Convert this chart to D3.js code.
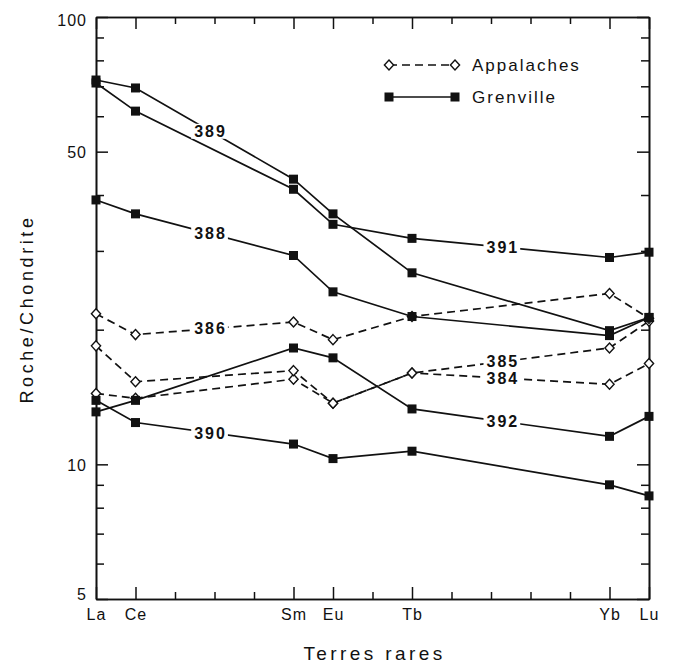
<!DOCTYPE html>
<meta charset="utf-8">
<script src="https://d3js.org/d3.v7.min.js"></script>
<body style="margin:0;background:#fff">
    <div id="chart"></div>
</body>
<script>
    // rare earth elements on x, placed by atomic number
    const elements = ["La", "Ce", "Sm", "Eu", "Tb", "Yb", "Lu"];
    const atomicNumbers = [57, 58, 62, 63, 65, 70, 71];

    // Grenville samples (solid line, filled squares) - rock / chondrite
    const grenville388 = [39.0, 36.3, 29.3, 24.3, 21.4, 19.4, 21.3];
    const grenville389 = [72.3, 69.4, 43.4, 36.3, 26.8, 19.9, 21.3];
    const grenville390 = [13.9, 12.4, 11.1, 10.3, 10.7, 9.0, 8.5];
    const grenville391 = [71.2, 61.6, 41.2, 34.4, 32.0, 29.0, 29.8];
    const grenville392 = [13.1, 13.9, 18.2, 17.3, 13.3, 11.55, 12.8];

    // Appalaches samples (dashed line, open diamonds)
    const appalaches384 = [14.4, 14.05, 15.5, 13.7, 16.0, 15.1, 16.8];
    const appalaches385 = [18.4, 15.3, 16.2, 13.7, 16.0, 18.2, 20.9];
    const appalaches386 = [21.7, 19.5, 20.8, 19.0, 21.4, 24.1, 21.2];

    // where the sample number sits along each curve (atomic number)
    const sampleNames = ["384", "385", "386", "388", "389", "390", "391", "392"];
    const sampleLabelAt = [67.3, 67.3, 59.9, 59.9, 59.9, 59.9, 67.3, 67.3];

    const yMajorTicks = [100, 50, 10, 5];
    const yMinorTicks = [90, 80, 70, 60, 40, 30, 20, 9, 8, 7, 6];
    const xMinorTicks = [59, 60, 61, 64, 66, 67, 68, 69];

    const series = [
        { name: "384", group: "Appalaches", values: appalaches384 },
        { name: "385", group: "Appalaches", values: appalaches385 },
        { name: "386", group: "Appalaches", values: appalaches386 },
        { name: "388", group: "Grenville", values: grenville388 },
        { name: "389", group: "Grenville", values: grenville389 },
        { name: "390", group: "Grenville", values: grenville390 },
        { name: "391", group: "Grenville", values: grenville391 },
        { name: "392", group: "Grenville", values: grenville392 }
    ];
    series.forEach(s => {
        s.labelAt = sampleLabelAt[sampleNames.indexOf(s.name)];
        s.points = s.values.map((v, i) => ({ z: atomicNumbers[i], v: v }));
    });

    const W = 673, H = 665;
    const margin = { top: 17, right: 24, bottom: 66, left: 96 };
    const FONT = "'Liberation Sans', Arial, Helvetica, sans-serif";

    const svg = d3.select("#chart")
        .append("svg")
        .attr("width", W)
        .attr("height", H)
        .style("font-family", FONT);

    const x = d3.scaleLinear()
        .domain([57, 71])
        .range([margin.left, W - margin.right]);
    const y = d3.scaleLog()
        .domain([5, 100])
        .range([H - margin.bottom, margin.top]);

    const x0 = x.range()[0], x1 = x.range()[1];
    const y0 = y.range()[0], y1 = y.range()[1];

    // --- axes / frame with inward ticks
    function styleAxis(g) {
        g.selectAll("path.domain").attr("stroke", "#111").attr("stroke-width", 1.6);
        g.selectAll(".tick line").attr("stroke", "#111").attr("stroke-width", 1.5);
        g.selectAll("text").attr("fill", "#111").attr("font-family", FONT);
    }

    // bottom, labelled elements
    svg.append("g")
        .attr("transform", `translate(0,${y0})`)
        .call(d3.axisBottom(x).tickValues(atomicNumbers).tickSize(-12).tickSizeOuter(0).tickPadding(10)
            .tickFormat(z => elements[atomicNumbers.indexOf(z)]))
        .call(styleAxis)
        .call(g => g.selectAll("text").attr("font-size", 16).attr("letter-spacing", 1));
    svg.append("g")
        .attr("transform", `translate(0,${y0})`)
        .call(d3.axisBottom(x).tickValues(xMinorTicks).tickSize(-7).tickSizeOuter(0).tickFormat(""))
        .call(styleAxis);

    // top
    svg.append("g")
        .attr("transform", `translate(0,${y1})`)
        .call(d3.axisTop(x).tickValues(atomicNumbers).tickSize(-12).tickSizeOuter(0).tickFormat(""))
        .call(styleAxis);
    svg.append("g")
        .attr("transform", `translate(0,${y1})`)
        .call(d3.axisTop(x).tickValues(xMinorTicks).tickSize(-7).tickSizeOuter(0).tickFormat(""))
        .call(styleAxis);

    // left
    svg.append("g")
        .attr("transform", `translate(${x0},0)`)
        .call(d3.axisLeft(y).tickValues(yMajorTicks).tickSize(-12).tickSizeOuter(0).tickPadding(9)
            .tickFormat(d3.format("d")))
        .call(styleAxis)
        .call(g => g.selectAll("text").attr("font-size", 16).attr("letter-spacing", 1)
            .attr("dy", d => d === 100 ? "0.5em" : d === 5 ? "0.05em" : "0.36em"));
    svg.append("g")
        .attr("transform", `translate(${x0},0)`)
        .call(d3.axisLeft(y).tickValues(yMinorTicks).tickSize(-8).tickSizeOuter(0).tickFormat(""))
        .call(styleAxis);

    // right
    svg.append("g")
        .attr("transform", `translate(${x1},0)`)
        .call(d3.axisRight(y).tickValues(yMajorTicks).tickSize(-12).tickSizeOuter(0).tickFormat(""))
        .call(styleAxis);
    svg.append("g")
        .attr("transform", `translate(${x1},0)`)
        .call(d3.axisRight(y).tickValues(yMinorTicks).tickSize(-8).tickSizeOuter(0).tickFormat(""))
        .call(styleAxis);

    // axis titles
    svg.append("text")
        .attr("x", (x0 + x1) / 2 + 2)
        .attr("y", 660)
        .attr("text-anchor", "middle")
        .attr("font-size", 19)
        .attr("letter-spacing", 3.4)
        .attr("fill", "#111")
        .text("Terres rares");

    svg.append("text")
        .attr("transform", `translate(33,${(y0 + y1) / 2 + 1}) rotate(-90)`)
        .attr("text-anchor", "middle")
        .attr("font-size", 18)
        .attr("letter-spacing", 3.6)
        .attr("fill", "#111")
        .text("Roche/Chondrite");

    // --- curves
    const line = d3.line()
        .x(d => x(d.z))
        .y(d => y(d.v));

    svg.append("g")
        .selectAll("path")
        .data(series)
        .join("path")
        .attr("d", d => line(d.points))
        .attr("fill", "none")
        .attr("stroke", "#111")
        .attr("stroke-width", 1.7)
        .attr("stroke-dasharray", d => d.group === "Appalaches" ? "8,5" : null);

    // sample numbers sitting on the curves (y interpolated along the line)
    function labelY(s) {
        const z = s.labelAt;
        let i = d3.bisectRight(atomicNumbers, z) - 1;
        i = Math.max(0, Math.min(i, atomicNumbers.length - 2));
        const t = (z - atomicNumbers[i]) / (atomicNumbers[i + 1] - atomicNumbers[i]);
        return y(s.values[i]) + t * (y(s.values[i + 1]) - y(s.values[i]));
    }

    const labels = svg.append("g")
        .selectAll("g")
        .data(series)
        .join("g")
        .attr("transform", d => `translate(${x(d.labelAt)},${labelY(d)})`);

    labels.append("text")
        .attr("text-anchor", "middle")
        .attr("dy", "0.36em")
        .attr("font-size", 16)
        .attr("font-weight", "bold")
        .attr("letter-spacing", 2)
        .attr("fill", "#111")
        .text(d => d.name);

    labels.each(function() {
        const g = d3.select(this);
        const b = g.select("text").node().getBBox();
        g.insert("rect", "text")
            .attr("x", b.x - 3)
            .attr("y", -7.5)
            .attr("width", b.width + 4)
            .attr("height", 15)
            .attr("fill", "#fff");
    });

    // --- markers
    const diamond = "M0,-5L4.6,0L0,5L-4.6,0Z";
    const pts = series.flatMap(s => s.points.map(p => ({ ...p, group: s.group })));

    svg.append("g")
        .selectAll("path")
        .data(pts.filter(p => p.group === "Appalaches"))
        .join("path")
        .attr("d", diamond)
        .attr("transform", d => `translate(${x(d.z)},${y(d.v)})`)
        .attr("fill", "#fff")
        .attr("stroke", "#111")
        .attr("stroke-width", 1.4);

    svg.append("g")
        .selectAll("rect")
        .data(pts.filter(p => p.group === "Grenville"))
        .join("rect")
        .attr("x", d => x(d.z) - 4.5)
        .attr("y", d => y(d.v) - 4.5)
        .attr("width", 9)
        .attr("height", 9)
        .attr("fill", "#111");

    // --- legend
    const legendGroups = ["Appalaches", "Grenville"];
    const legend = svg.append("g")
        .selectAll("g")
        .data(legendGroups)
        .join("g")
        .attr("transform", (d, i) => `translate(389,${65 + i * 32})`);

    legend.append("line")
        .attr("x1", 0).attr("x2", 66)
        .attr("stroke", "#111")
        .attr("stroke-width", 1.6)
        .attr("stroke-dasharray", d => d === "Appalaches" ? "8,5" : null);

    legend.filter(d => d === "Appalaches")
        .selectAll("path")
        .data([0, 66])
        .join("path")
        .attr("d", diamond)
        .attr("transform", d => `translate(${d},0)`)
        .attr("fill", "#fff")
        .attr("stroke", "#111")
        .attr("stroke-width", 1.4);

    legend.filter(d => d === "Grenville")
        .selectAll("rect")
        .data([0, 66])
        .join("rect")
        .attr("x", d => d - 4.5)
        .attr("y", -4.5)
        .attr("width", 9)
        .attr("height", 9)
        .attr("fill", "#111");

    legend.append("text")
        .attr("x", 83)
        .attr("dy", "0.36em")
        .attr("font-size", 17)
        .attr("letter-spacing", 2)
        .attr("fill", "#111")
        .text(d => d);
</script>
